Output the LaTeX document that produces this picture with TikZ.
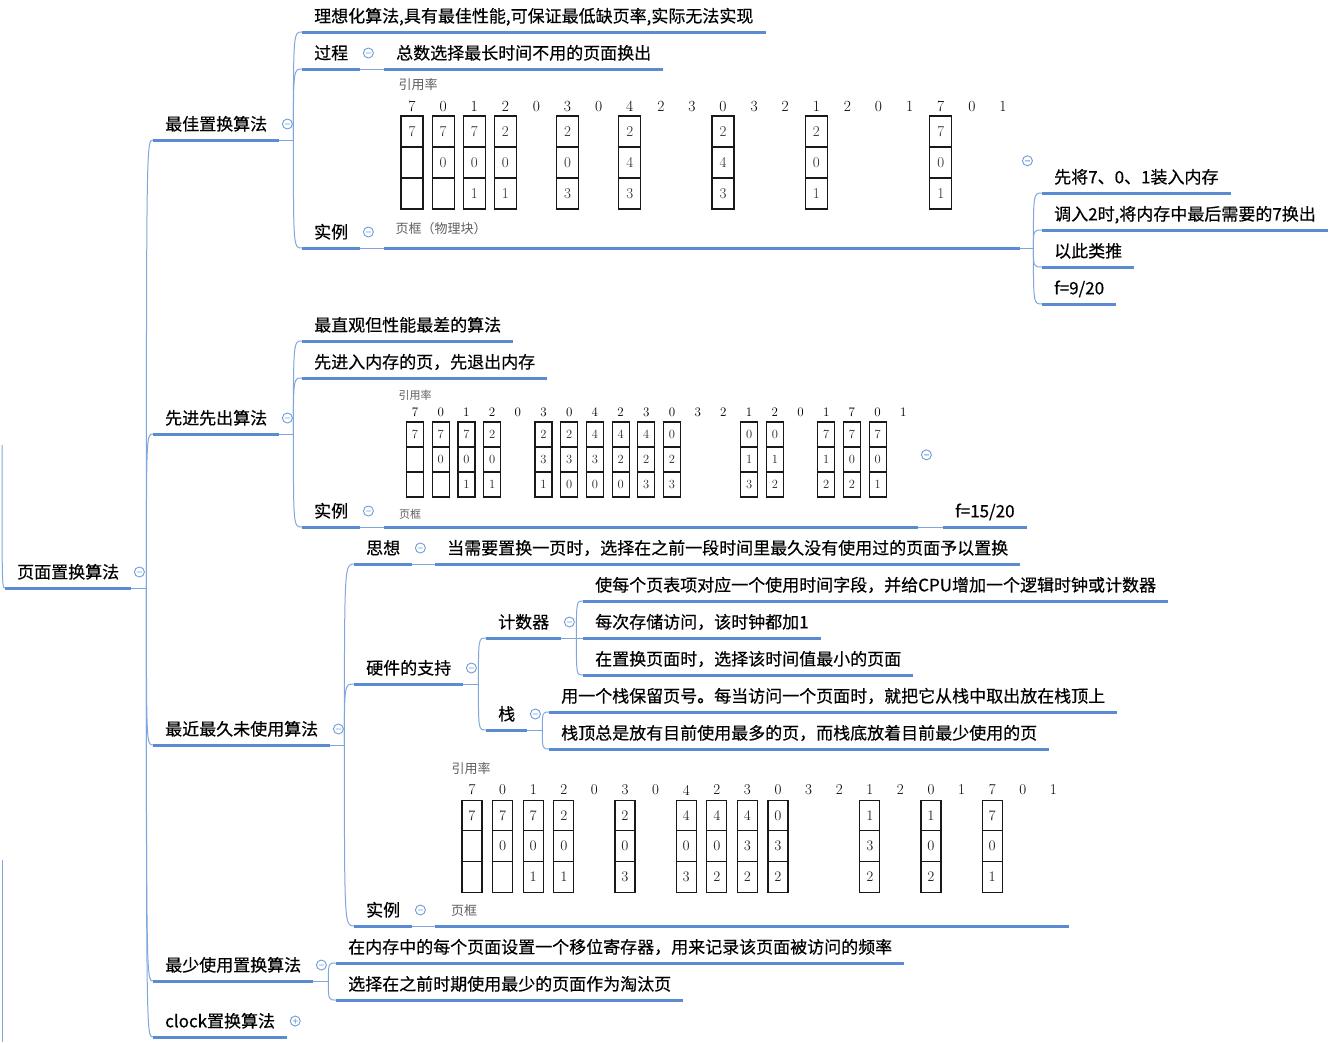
\documentclass[tikz,border=0pt]{standalone}
\usepackage{fontspec}
\newfontfamily\cjk{Noto Sans CJK SC}
\newfontfamily\cjkb[FakeBold=0.4]{Noto Sans CJK SC}
\usetikzlibrary{positioning,calc}
\definecolor{mmLine}{HTML}{5B8BD0}
\definecolor{mmConn}{HTML}{80A7DD}
\definecolor{mmFold}{HTML}{6E9BD8}
\definecolor{picGray}{HTML}{5E5E5E}
\tikzset{
  topic/.style={anchor=south west,inner xsep=12pt,inner ysep=0pt,text height=13pt,text depth=9.5pt,text=black,font=\cjkb\fontsize{17}{20}\selectfont},
  picbox/.style 2 args={anchor=south west,inner sep=0pt,minimum width=#1,minimum height=#2},
  underl/.style={mmLine,line width=3pt},
  conn/.style={mmConn,line width=1pt},
  fold/.style={mmFold,line width=0.9pt},
  piclbl/.style={inner sep=0pt,text=picGray,font=\cjk\fontsize{#1}{#1}\selectfont},
  refnum/.style={inner sep=0pt,text=black,font=\fontsize{#1}{#1}\selectfont},
  cellbox/.style 2 args={draw=black!90,line width=1.2pt,inner sep=0pt,minimum width=#1,minimum height=#2,text=black!85}
}
\begin{document}
\begin{tikzpicture}[x=1pt,y=-1pt]
\useasboundingbox (0,0) rectangle (1329,1042);

% main branches
\node[topic] (root) at (5,588) {页面置换算法};
\node[topic] (opt) at (153,140) {最佳置换算法};
\node[topic] (fifo) at (153,434) {先进先出算法};
\node[topic] (lru) at (153,745) {最近最久未使用算法};
\node[topic] (lfu) at (153,981) {最少使用置换算法};
\node[topic] (clk) at (153,1037) {clock置换算法};

% optimal
\node[topic] (optIdeal) at (302,32) {理想化算法,具有最佳性能,可保证最低缺页率,实际无法实现};
\node[topic] (optProc) at (302,69) {过程};
\node[topic] (optProcTxt) at (384,69) {总数选择最长时间不用的页面换出};
\node[topic] (optEx) at (302,248) {实例};
\node[picbox={636pt}{174pt}] (optPic) at (384,248) {};
\node[topic] (optS1) at (1042,193) {先将7、0、1装入内存};
\node[topic] (optS2) at (1042,230) {调入2时,将内存中最后需要的7换出};
\node[topic] (optS3) at (1042,267) {以此类推};
\node[topic] (optS4) at (1042,304) {f=9/20};

\node[piclbl=13] (optLbl) at (418,85) {引用率};
\foreach \v [count=\i from 0] in {7,0,1,2,0,3,0,4,2,3,0,3,2,1,2,0,1,7,0,1}
  \node[refnum=15.5] (optR\i) at (412+31.1*\i,106) {\v};
\foreach \col/\ta/\tb/\tc in {0/7/{}/{},1/7/0/{},2/7/0/1,3/2/0/1,5/2/0/3,7/2/4/3,10/2/4/3,13/2/0/1,17/7/0/1}
  \foreach \row/\val in {0/\ta,1/\tb,2/\tc}
    \node[cellbox={22pt}{31pt},font=\fontsize{15}{15}\selectfont] (optF\col-\row) at (412+31.1*\col,131.5+31*\row) {\val};
\node[piclbl=13] (optFr) at (441,229) {页框（物理块）};

% fifo
\node[topic] (fifoA) at (302,341) {最直观但性能最差的算法};
\node[topic] (fifoB) at (302,378) {先进入内存的页，先退出内存};
\node[topic] (fifoEx) at (302,527) {实例};
\node[picbox={534pt}{144pt}] (fifoPic) at (384,527) {};
\node[topic] (fifoF) at (943,527) {f=15/20};

\node[piclbl=11] (fifoLbl) at (415,395) {引用率};
\foreach \v [count=\i from 0] in {7,0,1,2,0,3,0,4,2,3,0,3,2,1,2,0,1,7,0,1}
  \node[refnum=13] (fifoR\i) at (415+25.7*\i,412) {\v};
\foreach \col/\ta/\tb/\tc in {0/7/{}/{},1/7/0/{},2/7/0/1,3/2/0/1,5/2/3/1,6/2/3/0,7/4/3/0,8/4/2/0,9/4/2/3,10/0/2/3,13/0/1/3,14/0/1/2,16/7/1/2,17/7/0/2,18/7/0/1}
  \foreach \row/\val in {0/\ta,1/\tb,2/\tc}
    \node[cellbox={17pt}{25pt},font=\fontsize{12.5}{12.5}\selectfont] (fifoF\col-\row) at (415+25.7*\col,434.5+25*\row) {\val};
\node[piclbl=11] (fifoFr) at (410,514) {页框};

% lru
\node[topic] (lruIdea) at (354,564) {思想};
\node[topic] (lruIdeaTxt) at (435,564) {当需要置换一页时，选择在之前一段时间里最久没有使用过的页面予以置换};
\node[topic] (lruHw) at (354,684) {硬件的支持};
\node[topic] (lruCnt) at (486,638) {计数器};
\node[topic] (lruCnt1) at (583,601) {使每个页表项对应一个使用时间字段，并给CPU增加一个逻辑时钟或计数器};
\node[topic] (lruCnt2) at (583,638) {每次存储访问，该时钟都加1};
\node[topic] (lruCnt3) at (583,675) {在置换页面时，选择该时间值最小的页面};
\node[topic] (lruStk) at (486,730) {栈};
\node[topic] (lruStk1) at (549,712) {用一个栈保留页号。每当访问一个页面时，就把它从栈中取出放在栈顶上};
\node[topic] (lruStk2) at (549,749) {栈顶总是放有目前使用最多的页，而栈底放着目前最少使用的页};
\node[topic] (lruEx) at (354,926) {实例};
\node[picbox={634pt}{170pt}] (lruPic) at (435,926) {};

\node[piclbl=13] (lruLbl) at (471,769) {引用率};
\foreach \v [count=\i from 0] in {7,0,1,2,0,3,0,4,2,3,0,3,2,1,2,0,1,7,0,1}
  \node[refnum=15] (lruR\i) at (472+30.6*\i,790) {\v};
\foreach \col/\ta/\tb/\tc in {0/7/{}/{},1/7/0/{},2/7/0/1,3/2/0/1,5/2/0/3,7/4/0/3,8/4/0/2,9/4/3/2,10/0/3/2,13/1/3/2,15/1/0/2,17/7/0/1}
  \foreach \row/\val in {0/\ta,1/\tb,2/\tc}
    \node[cellbox={20pt}{30.7pt},font=\fontsize{14.5}{14.5}\selectfont] (lruF\col-\row) at (472+30.6*\col,815.5+30.7*\row) {\val};
\node[piclbl=13] (lruFr) at (464,911) {页框};

% lfu
\node[topic] (lfu1) at (336,963) {在内存中的每个页面设置一个移位寄存器，用来记录该页面被访问的频率};
\node[topic] (lfu2) at (336,1000) {选择在之前时期使用最少的页面作为淘汰页};

% connectors
\draw[conn] (2,445) .. controls (2,588) .. (root.south west);
\draw[conn] (2,860) -- (2,1042);
\draw[conn] (root.south east) -- ++(15,0) coordinate (rootT);
\foreach \n in {opt,fifo,lru,lfu,clk}
  \draw[conn] (rootT) .. controls (rootT |- \n.south west) .. (\n.south west);
\draw[conn] (opt.south east) -- ++(14,0) coordinate (optT);
\foreach \n in {optIdeal,optProc,optEx}
  \draw[conn] (optT) .. controls (optT |- \n.south west) .. (\n.south west);
\draw[conn] (optProc.south east) -- (optProcTxt.south west);
\draw[conn] (optEx.south east) -- (optPic.south west);
\draw[conn] (optPic.south east) -- ++(13,0) coordinate (optPicT);
\foreach \n in {optS1,optS2,optS3,optS4}
  \draw[conn] (optPicT) .. controls (optPicT |- \n.south west) .. (\n.south west);
\draw[conn] (fifo.south east) -- ++(14,0) coordinate (fifoT);
\foreach \n in {fifoA,fifoB,fifoEx}
  \draw[conn] (fifoT) .. controls (fifoT |- \n.south west) .. (\n.south west);
\draw[conn] (fifoEx.south east) -- (fifoPic.south west);
\draw[conn] (fifoPic.south east) -- (fifoF.south west);
\draw[conn] (lru.south east) -- ++(14,0) coordinate (lruT);
\foreach \n in {lruIdea,lruHw,lruEx}
  \draw[conn] (lruT) .. controls (lruT |- \n.south west) .. (\n.south west);
\draw[conn] (lruIdea.south east) -- (lruIdeaTxt.south west);
\draw[conn] (lruHw.south east) -- ++(15,0) coordinate (lruHwT);
\foreach \n in {lruCnt,lruStk}
  \draw[conn] (lruHwT) .. controls (lruHwT |- \n.south west) .. (\n.south west);
\draw[conn] (lruCnt.south east) -- ++(15,0) coordinate (lruCntT);
\foreach \n in {lruCnt1,lruCnt2,lruCnt3}
  \draw[conn] (lruCntT) .. controls (lruCntT |- \n.south west) .. (\n.south west);
\draw[conn] (lruStk.south east) -- ++(15,0) coordinate (lruStkT);
\foreach \n in {lruStk1,lruStk2}
  \draw[conn] (lruStkT) .. controls (lruStkT |- \n.south west) .. (\n.south west);
\draw[conn] (lruEx.south east) -- (lruPic.south west);
\draw[conn] (lfu.south east) -- ++(15,0) coordinate (lfuT);
\foreach \n in {lfu1,lfu2}
  \draw[conn] (lfuT) .. controls (lfuT |- \n.south west) .. (\n.south west);

% underlines
\foreach \n in {root,opt,fifo,lru,lfu,clk,optIdeal,optProc,optProcTxt,optEx,optPic,optS1,optS2,optS3,optS4,
  fifoA,fifoB,fifoEx,fifoPic,fifoF,lruIdea,lruIdeaTxt,lruHw,lruCnt,lruCnt1,lruCnt2,lruCnt3,lruStk,lruStk1,lruStk2,lruEx,lruPic,lfu1,lfu2}
  \draw[underl] (\n.south west) -- (\n.south east);

% fold markers
\foreach \n in {root,opt,optProc,optEx,fifo,fifoEx,lru,lruIdea,lruHw,lruCnt,lruStk,lruEx,lfu}
  \draw[fold] ($(\n.south east)+(8,-16)$) circle (5pt) +(-2.5,0) -- +(2.5,0);
\draw[fold] ($(optPic.east)+(7,0)$) circle (5pt) +(-2.5,0) -- +(2.5,0);
\draw[fold] ($(fifoPic.east)+(8,0)$) circle (5pt) +(-2.5,0) -- +(2.5,0);
\draw[fold] ($(clk.south east)+(8,-16)$) circle (5pt) +(-2.5,0) -- +(2.5,0) +(0,-2.5) -- +(0,2.5);
\end{tikzpicture}
\end{document}
